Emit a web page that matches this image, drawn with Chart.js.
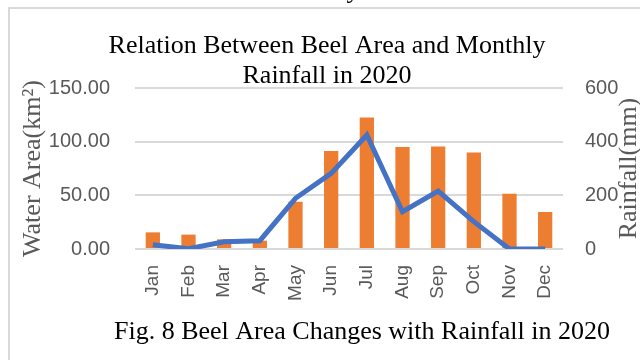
<!DOCTYPE html>
<html>
<head>
<meta charset="utf-8">
<script src="https://cdn.jsdelivr.net/npm/chart.js@4"></script>
<style>
  html, body { margin: 0; padding: 0; background: #fff; }
  #wrap { width: 640px; height: 360px; position: relative; }
</style>
</head>
<body>
<div id="wrap"><canvas id="beelChart"></canvas></div>
<script>
const months = ['Jan', 'Feb', 'Mar', 'Apr', 'May', 'Jun', 'Jul', 'Aug', 'Sep', 'Oct', 'Nov', 'Dec'];
const waterArea = [15.5, 13.4, 9, 7.8, 44, 91.3, 122.5, 95, 95.5, 90, 51.5, 34.5];
const rainfall = [16, 1, 27, 31, 189, 282, 425, 139, 216, 102, 0, 0];
const areaTicks = [0, 50, 100, 150];
const rainTicks = [0, 200, 400, 600];
const titleLines = ['Relation Between Beel Area and Monthly', 'Rainfall in 2020'];
const captionText = 'Fig. 8 Beel Area Changes with Rainfall in 2020';
const rightTitle = 'Rainfall(mm)';

const serif = '"Liberation Serif", "Times New Roman", serif';
const sans = '"Liberation Sans", Arial, sans-serif';
const tickGray = '#595959';

// frame, titles and caption drawn straight on the canvas
const decorations = {
    id: 'decorations',
    beforeDraw(chart) {
        const ctx = chart.ctx;
        ctx.save();
        ctx.strokeStyle = '#d9d9d9';
        ctx.lineWidth = 2;
        ctx.strokeRect(9, 8, 700, 400);
        ctx.restore();
    },
    afterDraw(chart) {
        const ctx = chart.ctx;
        const area = chart.chartArea;
        ctx.save();
        ctx.fillStyle = '#000';
        ctx.textAlign = 'center';
        ctx.textBaseline = 'alphabetic';
        ctx.font = '26px ' + serif;
        ctx.fillText(titleLines[0], 327, 53);
        ctx.fillText(titleLines[1], 327, 83);
        ctx.fillText(captionText, 362, 339);
        // cut-off text from the page above
        ctx.fillText('y', 353, -2);

        // right axis title reads bottom to top, over the tick labels
        ctx.fillStyle = tickGray;
        ctx.textBaseline = 'middle';
        ctx.translate(629, (area.top + area.bottom) / 2);
        ctx.rotate(-Math.PI / 2);
        ctx.fillText(rightTitle, 0, 0);
        ctx.restore();
    }
};

const ctx = document.getElementById('beelChart').getContext('2d');
const beelChart = new Chart(ctx, {
    data: {
        labels: months,
        datasets: [{
            type: 'line',
            label: 'Rainfall',
            data: rainfall,
            yAxisID: 'y1',
            borderColor: '#4472C4',
            backgroundColor: '#4472C4',
            borderWidth: 5,
            pointRadius: 0,
            tension: 0,
            order: 0
        }, {
            type: 'bar',
            label: 'Water Area',
            data: waterArea,
            yAxisID: 'y',
            backgroundColor: '#ED7D31',
            barPercentage: 0.4,
            categoryPercentage: 1,
            order: 1
        }]
    },
    options: {
        responsive: true,
        maintainAspectRatio: false,
        animation: false,
        layout: { padding: { top: 88, bottom: 51, left: 0, right: 0 } },
        plugins: {
            legend: { display: false },
            tooltip: { enabled: false },
            title: { display: false }
        },
        scales: {
            x: {
                grid: { display: false, drawTicks: false },
                border: { display: false },
                ticks: {
                    color: tickGray,
                    font: { family: sans, size: 19 },
                    minRotation: 90,
                    maxRotation: 90,
                    padding: 16
                },
                afterFit(scale) { scale.height = 60; }
            },
            y: {
                position: 'left',
                min: 0,
                max: 150,
                afterBuildTicks(scale) { scale.ticks = areaTicks.map(v => ({ value: v })); },
                grid: { color: '#d9d9d9', lineWidth: 2, drawTicks: false },
                border: { display: false },
                ticks: {
                    color: tickGray,
                    font: { family: sans, size: 20 },
                    padding: 25,
                    callback: v => v.toFixed(2)
                },
                title: {
                    display: true,
                    text: 'Water Area(km²)',
                    color: tickGray,
                    font: { family: serif, size: 26, lineHeight: 1 },
                    padding: { top: 20, bottom: 0 }
                },
                afterFit(scale) { scale.width = 135; }
            },
            y1: {
                position: 'right',
                min: 0,
                max: 600,
                afterBuildTicks(scale) { scale.ticks = rainTicks.map(v => ({ value: v })); },
                grid: { display: false, drawTicks: false },
                border: { display: false },
                ticks: {
                    color: tickGray,
                    font: { family: sans, size: 20 },
                    padding: 22
                },
                afterFit(scale) { scale.width = 77; }
            }
        }
    },
    plugins: [decorations]
});
</script>
</body>
</html>
